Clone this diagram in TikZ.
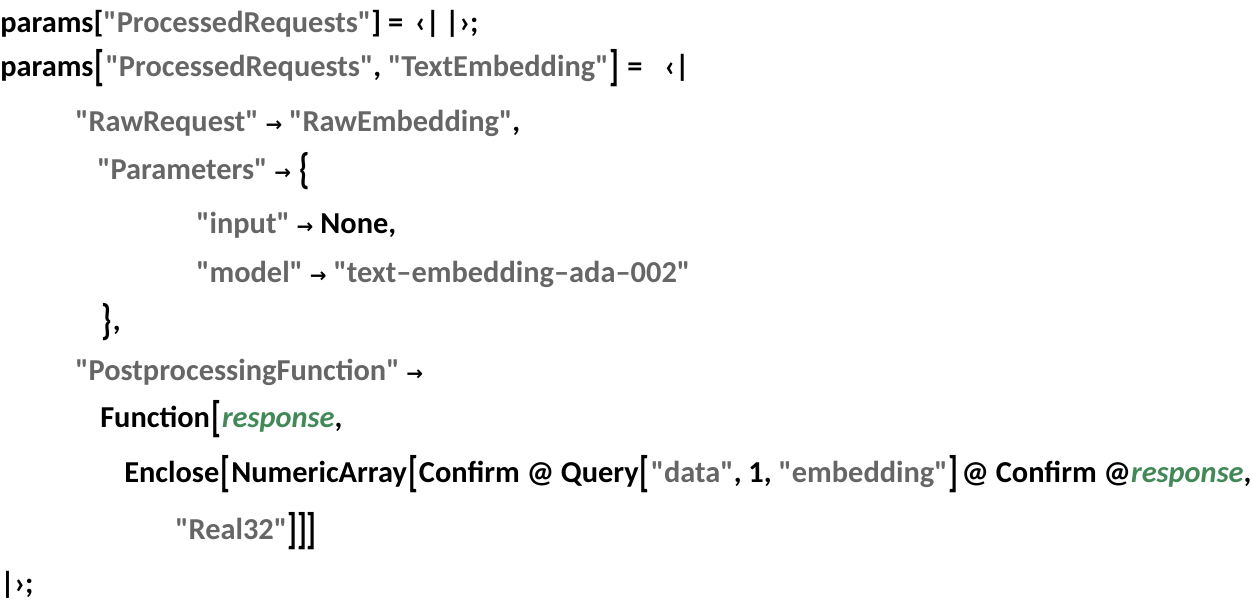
\documentclass[tikz,border=0pt]{standalone}
\usepackage{fontspec}
\setmainfont{Carlito}[Ligatures=TeXOff]
\newfontfamily\arrowfont{DejaVu Sans}
\definecolor{strgray}{RGB}{102,102,102}
\definecolor{vargreen}{RGB}{67,137,88}
\newcommand{\str}[1]{\textcolor{strgray}{#1}}
\newcommand{\var}[1]{\textcolor{vargreen}{\textit{#1}}}
\newcommand{\tallbr}[1]{\kern0.8pt\relax\raisebox{-0.3ex}{\scalebox{1}[1.4]{#1}}\kern0.8pt\relax}
\newcommand{\rul}{ {\arrowfont\fontsize{15}{18}\selectfont→} }

\begin{document}
\begin{tikzpicture}[x=0.75pt,y=-0.75pt,
  code/.style={anchor=base west,inner sep=0pt,font=\fontsize{22.8}{27}\selectfont\bfseries}]
  \useasboundingbox (0,0) rectangle (1252,604);

  \node[code] (l1) at (0,32) {params[\str{"ProcessedRequests"}] = \,‹|\,|›;};
  \node[code] (l2) at (0,76) {params\tallbr{[}\str{"ProcessedRequests"}, \str{"TextEmbedding"}\tallbr{]} = \enspace‹|};
  \node[code] (l3) at (75,131) {\str{"RawRequest"}\rul\str{"RawEmbedding"},};
  \node[code] (l4) at (97,179) {\str{"Parameters"}\rul\tallbr{\{}};
  \node[code] (l5) at (196,233) {\str{"input"}\rul None,};
  \node[code] (l6) at (196,282) {\str{"model"}\rul\str{"text–embedding–ada–002"}};
  \node[code] (l7) at (100,330) {\tallbr{\}},};
  \node[code] (l8) at (75,380) {\str{"PostprocessingFunction"}\rul};
  \node[code] (l9) at (100,427) {Function\tallbr{[}\var{response},};
  \node[code] (l10) at (124,482) {Enclose\tallbr{[}NumericArray\tallbr{[}Confirm @ Query\tallbr{[}\str{"data"}, 1, \str{"embedding"}\tallbr{]}\kern1.5pt\relax@ Confirm @\var{response},};
  \node[code] (l11) at (175,539) {\str{"Real32"}\raisebox{-0.3ex}{\scalebox{1}[1.4]{]]]}}};
  \node[code] (l12) at (0,593) {|›;};
\end{tikzpicture}
\end{document}
